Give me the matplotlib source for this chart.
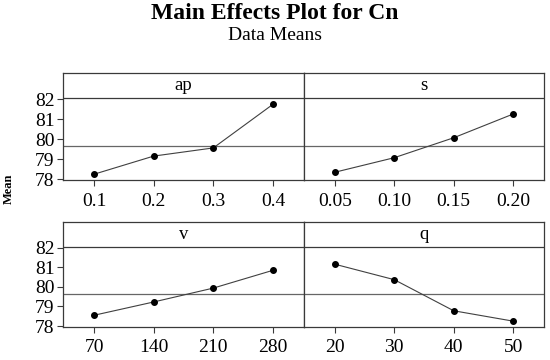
import matplotlib.pyplot as plt

plt.rcParams["font.family"] = ["Liberation Serif", "DejaVu Serif"]

# -----------------------------------------
# data
# -----------------------------------------
factors = ["ap", "s", "v", "q"]
ap_levels = ["0.1", "0.2", "0.3", "0.4"]
s_levels = ["0.05", "0.10", "0.15", "0.20"]
v_levels = ["70", "140", "210", "280"]
q_levels = ["20", "30", "40", "50"]

ap_means = [78.24, 79.15, 79.56, 81.75]
s_means = [78.34, 79.07, 80.07, 81.26]
v_means = [78.55, 79.23, 79.94, 80.85]
q_means = [81.16, 80.37, 78.78, 78.25]

grand_mean = 79.66
y_ticks = [78, 79, 80, 81, 82]

levels = [ap_levels, s_levels, v_levels, q_levels]
means = [ap_means, s_means, v_means, q_means]

# -----------------------------------------
# layout
# -----------------------------------------
fig = plt.figure(figsize=(5.5, 3.6), dpi=100)
left, mid, right = 63 / 550, 304 / 550, 544 / 550
rows = [(1 - 180 / 360, 1 - 73 / 360), (1 - 327 / 360, 1 - 222 / 360)]

frame_col = "#3a3a3a"
for i, name in enumerate(factors):
    r, c = divmod(i, 2)
    x0 = left if c == 0 else mid
    x1 = mid if c == 0 else right
    y0, y1 = rows[r]
    ax = fig.add_axes([x0, y0, x1 - x0, y1 - y0])

    xs = range(len(levels[i]))
    ax.axhline(grand_mean, color="#666666", lw=0.9, zorder=1)
    ax.axhline(82.05, color=frame_col, lw=0.9, zorder=1)
    ax.plot(xs, means[i], color="#404040", lw=0.8, marker="o",
            ms=4, mfc="black", mec="black", zorder=3)
    ax.text(1.5, 82.68, name, ha="center", va="center", fontsize=13.5)

    ax.set_xlim(-0.52, 3.52)
    ax.set_ylim(77.95, 83.32)
    ax.set_xticks(list(xs))
    ax.set_xticklabels(levels[i], fontsize=14)
    ax.set_yticks(y_ticks)
    if c == 0:
        ax.set_yticklabels([str(t) for t in y_ticks], fontsize=14)
    else:
        ax.tick_params(axis="y", left=False, labelleft=False)
    ax.tick_params(axis="both", direction="out", length=4, width=0.8,
                   color=frame_col, pad=2)
    ax.tick_params(axis="x", pad=5)
    for sp in ax.spines.values():
        sp.set_color(frame_col)
        sp.set_linewidth(0.9)

fig.text(0.5, 0.962, "Main Effects Plot for Cn", ha="center", va="center",
         fontsize=17, fontweight="bold")
fig.text(0.5, 0.9, "Data Means", ha="center", va="center", fontsize=14)
fig.text(0.016, 0.475, "Mean", rotation=90, ha="center", va="center",
         fontsize=9, fontweight="bold")

fig.savefig("out.png", dpi=100)
